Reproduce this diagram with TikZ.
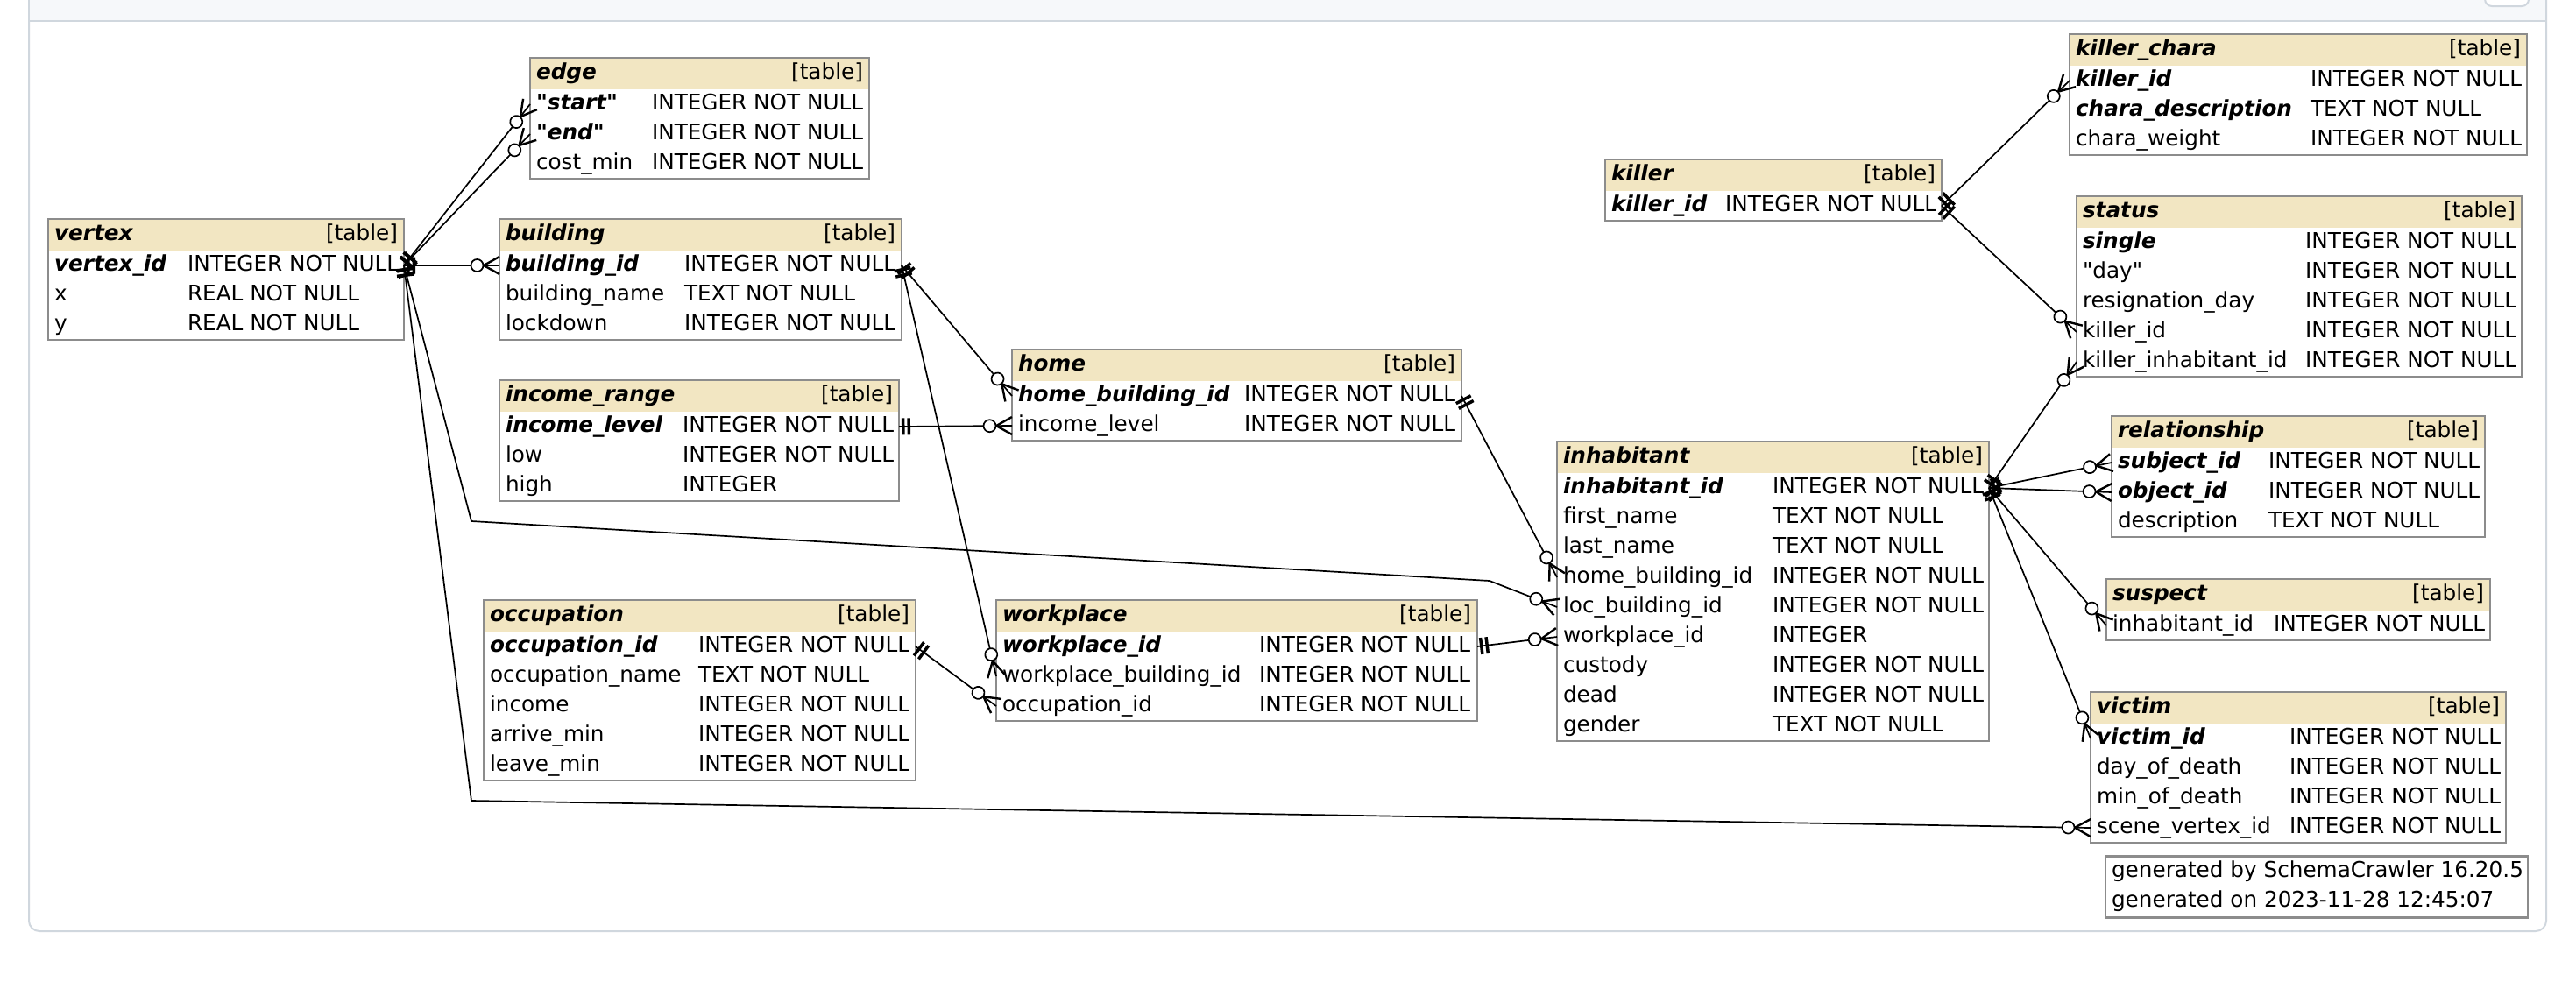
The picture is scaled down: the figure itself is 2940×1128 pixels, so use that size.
\documentclass[tikz,border=0pt]{standalone}
\usepackage{fontspec}
\setmainfont{DejaVu Sans}[Ligatures=TeXOff]
\usetikzlibrary{decorations.markings,fit,positioning}
\definecolor{hdrfill}{HTML}{F2E6C2}
\definecolor{tblline}{HTML}{8C8C8C}
\definecolor{framebd}{HTML}{D0D7DE}
\definecolor{bandfill}{HTML}{F6F8FA}
\newcommand\fsz{\fontsize{24.7pt}{29pt}\selectfont}
\newcommand\pk{\bfseries\itshape}
\newcommand\erhead[5]{%
  \node[hdr, minimum width=#4pt] (#1) at (#2,#3) {};
  \node[ttl] (#1-t) at ([xshift=7pt,yshift=-6pt]#1.west) {#5};
  \node[kind] (#1-k) at ([xshift=-7pt,yshift=-6pt]#1.east) {[table]};}
\newcommand\errow[6]{\node[tabrow, below=0pt of #2] (#1) {\makebox[#3pt][l]{#5}\makebox[#4pt][l]{#6}};}
\tikzset{
 every node/.style={inner sep=0pt, outer sep=0pt, font=\fsz},
 hdr/.style={fill=hdrfill, anchor=north west, minimum height=36pt},
 ttl/.style={anchor=base west, font=\fsz\bfseries\itshape},
 kind/.style={anchor=base east},
 tabrow/.style={minimum height=34pt, inner xsep=7pt, inner ysep=0pt, text height=17.5pt, text depth=5.5pt},
 tblbox/.style={draw=tblline, line width=2.2pt, inner sep=0pt},
 fk/.style={draw=black, line width=1.7pt, postaction={decorate, decoration={markings,
   mark=at position 0 with {\fill[black] (3pt,-9.5pt) rectangle (6.5pt,9.5pt) (9.5pt,-9.5pt) rectangle (13pt,9.5pt);},
   mark=at position 1 with {\draw[black, line width=2.4pt, line cap=butt] (-18pt,0pt) -- (0pt,10pt) (-18pt,0pt) -- (0pt,-10pt);
      \draw[black, line width=1.7pt, fill=white] (-25.5pt,0pt) circle (7pt);}}}},
}
\begin{document}
\begin{tikzpicture}[x=1pt,y=-1pt]
\useasboundingbox (0,0) rectangle (2940,1128);
\clip (0,0) rectangle (2940,1128);
\fill[white] (0,0) rectangle (2940,1128);
% frame
\draw[framebd, line width=2pt, fill=white, rounded corners=12pt] (33,-60) rectangle (2906,1063);
\fill[bandfill] (34,-60) rectangle (2905,24);
\draw[framebd, line width=2pt] (33,24) -- (2906,24);
\draw[framebd, line width=2pt, fill=white, rounded corners=8pt] (2836,-40) rectangle (2886,7);

% edge
\erhead{edgetbl}{605}{66}{387}{edge}
\errow{edgetbl-start}{edgetbl}{132}{241}{\pk "start"}{INTEGER NOT NULL}
\errow{edgetbl-end}{edgetbl-start}{132}{241}{\pk "end"}{INTEGER NOT NULL}
\errow{edgetbl-cost}{edgetbl-end}{132}{241}{cost\_min}{INTEGER NOT NULL}
\node[tblbox, fit=(edgetbl)(edgetbl-cost)] (edgetbl-box) {};

% vertex
\erhead{vertex}{55}{250}{406}{vertex}
\errow{vertex-vid}{vertex}{152}{240}{\pk vertex\_id}{INTEGER NOT NULL}
\errow{vertex-x}{vertex-vid}{152}{240}{x}{REAL NOT NULL}
\errow{vertex-y}{vertex-x}{152}{240}{y}{REAL NOT NULL}
\node[tblbox, fit=(vertex)(vertex-y)] (vertex-box) {};

% building
\erhead{building}{570}{250}{459}{building}
\errow{building-bid}{building}{204}{241}{\pk building\_id}{INTEGER NOT NULL}
\errow{building-name}{building-bid}{204}{241}{building\_name}{TEXT NOT NULL}
\errow{building-lock}{building-name}{204}{241}{lockdown}{INTEGER NOT NULL}
\node[tblbox, fit=(building)(building-lock)] (building-box) {};

% income_range
\erhead{income}{570}{434}{456}{income\_range}
\errow{income-level}{income}{202}{240}{\pk income\_level}{INTEGER NOT NULL}
\errow{income-low}{income-level}{202}{240}{low}{INTEGER NOT NULL}
\errow{income-high}{income-low}{202}{240}{high}{INTEGER}
\node[tblbox, fit=(income)(income-high)] (income-box) {};

% home
\erhead{home}{1155}{399}{513}{home}
\errow{home-hb}{home}{258}{241}{\pk home\_building\_id}{INTEGER NOT NULL}
\errow{home-il}{home-hb}{258}{241}{income\_level}{INTEGER NOT NULL}
\node[tblbox, fit=(home)(home-il)] (home-box) {};

% occupation
\erhead{occ}{552}{685}{493}{occupation}
\errow{occ-id}{occ}{238}{241}{\pk occupation\_id}{INTEGER NOT NULL}
\errow{occ-name}{occ-id}{238}{241}{occupation\_name}{TEXT NOT NULL}
\errow{occ-income}{occ-name}{238}{241}{income}{INTEGER NOT NULL}
\errow{occ-arrive}{occ-income}{238}{241}{arrive\_min}{INTEGER NOT NULL}
\errow{occ-leave}{occ-arrive}{238}{241}{leave\_min}{INTEGER NOT NULL}
\node[tblbox, fit=(occ)(occ-leave)] (occ-box) {};

% workplace
\erhead{wp}{1137}{685}{549}{workplace}
\errow{wp-id}{wp}{293}{242}{\pk workplace\_id}{INTEGER NOT NULL}
\errow{wp-bid}{wp-id}{293}{242}{workplace\_building\_id}{INTEGER NOT NULL}
\errow{wp-occ}{wp-bid}{293}{242}{occupation\_id}{INTEGER NOT NULL}
\node[tblbox, fit=(wp)(wp-occ)] (wp-box) {};

% inhabitant
\erhead{inh}{1777}{504}{493}{inhabitant}
\errow{inh-id}{inh}{239}{240}{\pk inhabitant\_id}{INTEGER NOT NULL}
\errow{inh-first}{inh-id}{239}{240}{first\_name}{TEXT NOT NULL}
\errow{inh-last}{inh-first}{239}{240}{last\_name}{TEXT NOT NULL}
\errow{inh-home}{inh-last}{239}{240}{home\_building\_id}{INTEGER NOT NULL}
\errow{inh-loc}{inh-home}{239}{240}{loc\_building\_id}{INTEGER NOT NULL}
\errow{inh-wp}{inh-loc}{239}{240}{workplace\_id}{INTEGER}
\errow{inh-custody}{inh-wp}{239}{240}{custody}{INTEGER NOT NULL}
\errow{inh-dead}{inh-custody}{239}{240}{dead}{INTEGER NOT NULL}
\errow{inh-gender}{inh-dead}{239}{240}{gender}{TEXT NOT NULL}
\node[tblbox, fit=(inh)(inh-gender)] (inh-box) {};

% killer
\erhead{killer}{1832}{182}{384}{killer}
\errow{killer-id}{killer}{130}{240}{\pk killer\_id}{INTEGER NOT NULL}
\node[tblbox, fit=(killer)(killer-id)] (killer-box) {};

% killer_chara
\erhead{kchara}{2362}{39}{522}{killer\_chara}
\errow{kchara-kid}{kchara}{268}{240}{\pk killer\_id}{INTEGER NOT NULL}
\errow{kchara-desc}{kchara-kid}{268}{240}{\pk chara\_description}{TEXT NOT NULL}
\errow{kchara-weight}{kchara-desc}{268}{240}{chara\_weight}{INTEGER NOT NULL}
\node[tblbox, fit=(kchara)(kchara-weight)] (kchara-box) {};

% status
\erhead{status}{2370}{224}{508}{status}
\errow{status-single}{status}{254}{240}{\pk single}{INTEGER NOT NULL}
\errow{status-day}{status-single}{254}{240}{"day"}{INTEGER NOT NULL}
\errow{status-resig}{status-day}{254}{240}{resignation\_day}{INTEGER NOT NULL}
\errow{status-kid}{status-resig}{254}{240}{killer\_id}{INTEGER NOT NULL}
\errow{status-kiid}{status-kid}{254}{240}{killer\_inhabitant\_id}{INTEGER NOT NULL}
\node[tblbox, fit=(status)(status-kiid)] (status-box) {};

% relationship
\erhead{relship}{2410}{475}{426}{relationship}
\errow{relship-subj}{relship}{172}{240}{\pk subject\_id}{INTEGER NOT NULL}
\errow{relship-obj}{relship-subj}{172}{240}{\pk object\_id}{INTEGER NOT NULL}
\errow{relship-desc}{relship-obj}{172}{240}{description}{TEXT NOT NULL}
\node[tblbox, fit=(relship)(relship-desc)] (relship-box) {};

% suspect
\erhead{suspect}{2404}{661}{438}{suspect}
\errow{suspect-iid}{suspect}{184}{240}{inhabitant\_id}{INTEGER NOT NULL}
\node[tblbox, fit=(suspect)(suspect-iid)] (suspect-box) {};

% victim
\erhead{victim}{2386}{790}{474}{victim}
\errow{victim-id}{victim}{220}{240}{\pk victim\_id}{INTEGER NOT NULL}
\errow{victim-day}{victim-id}{220}{240}{day\_of\_death}{INTEGER NOT NULL}
\errow{victim-min}{victim-day}{220}{240}{min\_of\_death}{INTEGER NOT NULL}
\errow{victim-scene}{victim-min}{220}{240}{scene\_vertex\_id}{INTEGER NOT NULL}
\node[tblbox, fit=(victim)(victim-scene)] (victim-box) {};

% footer
\node[tabrow, anchor=north west, inner xsep=5pt] (gen1) at (2405,978.5) {\makebox[468pt][l]{generated by SchemaCrawler 16.20.5}};
\errow{gen2}{gen1}{468}{0}{generated on 2023-11-28 12:45:07}{}
\node[tblbox, inner ysep=1pt, fit=(gen1)(gen2)] (gen-box) {};

% bends
\coordinate (b1) at (538,595);
\coordinate (b2) at (1700,663);
\coordinate (b3) at (538,914);

% connectors
\draw[fk] (vertex-vid.east) -- (edgetbl-start.west);
\draw[fk] (vertex-vid.east) -- (edgetbl-end.west);
\draw[fk] (vertex-vid.east) -- (building-bid.west);
\draw[fk] (vertex-vid.east) -- (b1) -- (b2) -- (inh-loc.west);
\draw[fk] (vertex-vid.east) -- (b3) -- (victim-scene.west);
\draw[fk] (building-bid.east) -- (home-hb.west);
\draw[fk] (building-bid.east) -- (wp-bid.west);
\draw[fk] (income-level.east) -- (home-il.west);
\draw[fk] (occ-id.east) -- (wp-occ.west);
\draw[fk] (home-hb.east) -- (inh-home.west);
\draw[fk] (wp-id.east) -- (inh-wp.west);
\draw[fk] (killer-id.east) -- (kchara-kid.west);
\draw[fk] (killer-id.east) -- (status-kid.west);
\draw[fk] (inh-id.east) -- (status-kiid.west);
\draw[fk] (inh-id.east) -- (relship-subj.west);
\draw[fk] (inh-id.east) -- (relship-obj.west);
\draw[fk] (inh-id.east) -- (suspect-iid.west);
\draw[fk] (inh-id.east) -- (victim-id.west);
\end{tikzpicture}
\end{document}
